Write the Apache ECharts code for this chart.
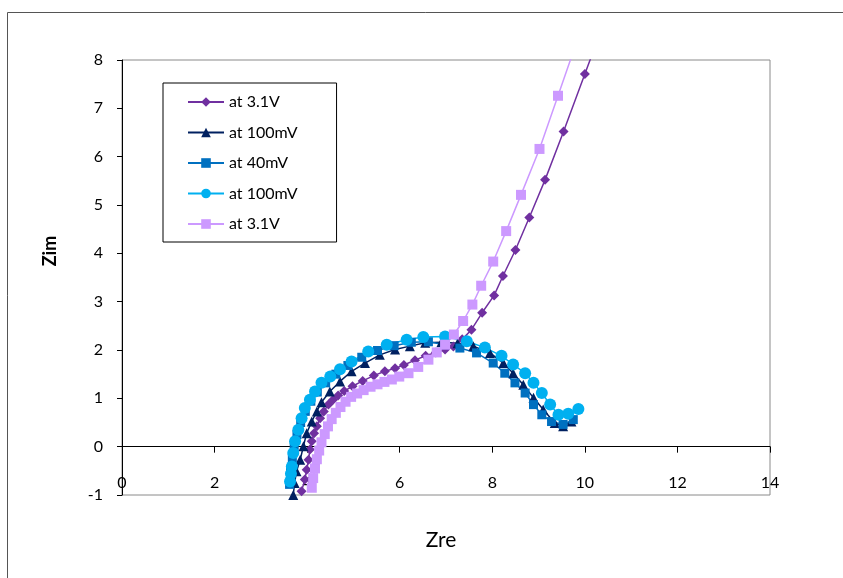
<!DOCTYPE html>
<html>
<head>
<meta charset="utf-8">
<script src="https://cdn.jsdelivr.net/npm/echarts@6/dist/echarts.min.js"></script>
<style>html,body{margin:0;padding:0;background:#fff}#c{width:843px;height:578px}</style>
</head>
<body>
<div id="c"></div>
<script>
var seriesNames = ['at 3.1V', 'at 100mV', 'at 40mV', 'at 100mV', 'at 3.1V'];
var xTicks = [0, 2, 4, 6, 8, 10, 12, 14];
var yTicks = [-1, 0, 1, 2, 3, 4, 5, 6, 7, 8];

var diam31 = [[3.88,-0.92],[3.95,-0.68],[3.99,-0.48],[4.03,-0.27],[4.06,-0.06],[4.10,0.11],[4.15,0.28],[4.21,0.42],[4.28,0.59],[4.36,0.73],[4.46,0.87],[4.56,0.97],[4.67,1.06],[4.80,1.15],[4.98,1.25],[5.20,1.36],[5.44,1.47],[5.68,1.56],[5.90,1.62],[6.09,1.69],[6.33,1.79],[6.56,1.88],[6.78,1.95],[6.98,2.01],[7.16,2.07],[7.35,2.22],[7.55,2.42],[7.78,2.77],[8.04,3.13],[8.23,3.53],[8.50,4.07],[8.80,4.74],[9.14,5.52],[9.54,6.52],[10.00,7.71],[10.46,8.90]];
var tri100 = [[3.70,-1.00],[3.73,-0.75],[3.77,-0.51],[3.85,-0.27],[3.92,0.01],[3.99,0.28],[4.10,0.52],[4.21,0.73],[4.31,0.92],[4.49,1.14],[4.71,1.35],[4.96,1.56],[5.25,1.73],[5.57,1.90],[5.90,2.01],[6.22,2.08],[6.55,2.15],[6.90,2.16],[7.25,2.14],[7.59,2.08],[7.95,1.94],[8.24,1.73],[8.45,1.52],[8.67,1.28],[8.89,1.01],[9.10,0.77],[9.35,0.49],[9.53,0.42],[9.71,0.52]];
var sq40 = [[3.62,-0.78],[3.64,-0.50],[3.68,-0.25],[3.72,0.00],[3.78,0.25],[3.86,0.50],[3.96,0.73],[4.08,0.94],[4.22,1.13],[4.40,1.32],[4.62,1.50],[4.88,1.68],[5.18,1.85],[5.52,1.99],[5.88,2.09],[6.25,2.16],[6.62,2.17],[6.98,2.11],[7.30,2.04],[7.66,1.94],[8.02,1.73],[8.27,1.52],[8.49,1.32],[8.71,1.11],[8.89,0.87],[9.07,0.66],[9.28,0.52],[9.53,0.46],[9.75,0.56]];
var circ100 = [[3.63,-0.72],[3.65,-0.56],[3.67,-0.41],[3.70,-0.13],[3.74,0.11],[3.81,0.35],[3.88,0.59],[3.95,0.80],[4.06,0.97],[4.17,1.14],[4.31,1.32],[4.50,1.45],[4.71,1.60],[4.96,1.76],[5.32,1.97],[5.72,2.11],[6.15,2.21],[6.51,2.27],[6.98,2.28],[7.45,2.18],[7.84,2.05],[8.20,1.88],[8.45,1.70],[8.71,1.52],[8.89,1.32],[9.07,1.11],[9.25,0.87],[9.43,0.66],[9.64,0.68],[9.86,0.78]];
var sq31 = [[4.10,-0.85],[4.13,-0.65],[4.17,-0.45],[4.21,-0.26],[4.26,-0.08],[4.31,0.09],[4.38,0.26],[4.45,0.42],[4.53,0.57],[4.62,0.70],[4.72,0.82],[4.83,0.93],[4.95,1.03],[5.08,1.10],[5.22,1.17],[5.37,1.24],[5.52,1.29],[5.67,1.34],[5.83,1.39],[5.99,1.45],[6.19,1.52],[6.40,1.65],[6.62,1.80],[6.80,1.95],[6.98,2.11],[7.17,2.32],[7.37,2.60],[7.57,2.94],[7.76,3.33],[8.02,3.83],[8.30,4.46],[8.62,5.21],[9.02,6.16],[9.42,7.26],[9.85,8.45]];

var colors = ['#7030A0', '#002060', '#0070C0', '#00B0F0', '#CC99FF'];
var symbols = ['diamond', 'triangle', 'rect', 'circle', 'rect'];
var sizes = [10, 10, 9, 12, 10];
var datas = [diam31, tri100, sq40, circ100, sq31];

var font = 'Lato, Open Sans, sans-serif';
var series = datas.map(function (d, i) {
  return {
    name: seriesNames[i] + (i >= 3 ? ' ' : ''),
    type: 'line',
    data: d,
    symbol: symbols[i],
    symbolSize: sizes[i],
    showAllSymbol: true,
    clip: true,
    lineStyle: { color: colors[i], width: 1.5 },
    itemStyle: { color: colors[i] },
    emphasis: { disabled: true },
    animation: false
  };
});

var chart = echarts.init(document.getElementById('c'), null, { renderer: 'canvas' });
chart.setOption({
  animation: false,
  color: colors,
  grid: { left: 122, right: 73, top: 60, bottom: 83, show: true, borderColor: '#8a8a8a', borderWidth: 1, backgroundColor: 'transparent' },
  legend: {
    orient: 'vertical', left: 163, top: 83,
    padding: [11, 35, 10, 24], itemGap: 14.5,
    itemWidth: 36, itemHeight: 12,
    borderColor: '#000', borderWidth: 1,
    textStyle: { fontFamily: font, fontSize: 16, color: '#000' },
    data: series.map(function (s) { return s.name; })
  },
  xAxis: {
    type: 'value', min: 0, max: 14, interval: 2,
    axisLine: { onZero: true, lineStyle: { color: '#000', width: 1 } },
    axisTick: { show: true, length: 6, lineStyle: { color: '#000' } },
    axisLabel: { margin: -20, fontFamily: font, fontSize: 16, color: '#000',
      formatter: function (v) { return xTicks.indexOf(v) >= 0 ? String(v) : ''; } },
    splitLine: { show: false }
  },
  yAxis: {
    type: 'value', min: -1, max: 8, interval: 1,
    axisLine: { show: true, onZero: false, lineStyle: { color: '#000', width: 1 } },
    axisTick: { show: true, length: 5, lineStyle: { color: '#000' } },
    axisLabel: { margin: 19, fontFamily: font, fontSize: 16, color: '#000',
      formatter: function (v) { return yTicks.indexOf(v) >= 0 ? String(v) : ''; } },
    splitLine: { show: false }
  },
  graphic: [
    { type: 'rect', shape: { x: 7.5, y: 12.5, width: 900, height: 700 }, style: { fill: 'none', stroke: '#555', lineWidth: 1 }, silent: true, z: -10 },
    { type: 'text', x: 441, y: 540, style: { text: 'Zre', fontFamily: font, fontSize: 21, fill: '#000', textAlign: 'center', textVerticalAlign: 'middle' } },
    { type: 'text', x: 50, y: 251, rotation: Math.PI / 2, style: { text: 'Zim', fontFamily: font, fontSize: 18, fontWeight: 'bold', fill: '#000', textAlign: 'center', textVerticalAlign: 'middle' } }
  ],
  series: series
});
</script>
</body>
</html>
